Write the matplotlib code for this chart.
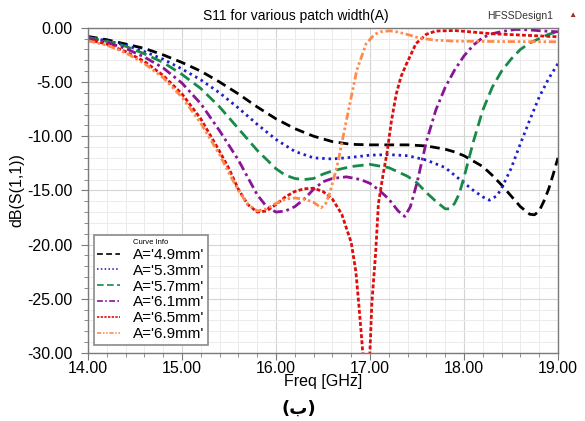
import numpy as np
import matplotlib
matplotlib.use("Agg")
import matplotlib.pyplot as plt
from matplotlib.ticker import MultipleLocator, FormatStrFormatter

plt.rcParams['font.family'] = ['Liberation Sans', 'DejaVu Sans']

# ---- data (freq in GHz, S11 in dB) ----
f_49 = [14.0, 14.2, 14.4, 14.6, 14.8, 15.0, 15.2, 15.4, 15.6, 15.8, 16.0, 16.2, 16.4, 16.6,
        16.8, 17.0, 17.2, 17.4, 17.6, 17.8, 17.9, 18.0, 18.1, 18.2, 18.3, 18.4, 18.5, 18.6,
        18.7, 18.75, 18.8, 18.85, 18.9, 18.95, 19.0]
s_49 = [-0.8, -1.1, -1.5, -1.9, -2.5, -3.2, -4.0, -5.0, -6.1, -7.3, -8.4, -9.3, -10.0, -10.5,
        -10.75, -10.8, -10.8, -10.8, -10.9, -11.2, -11.45, -11.8, -12.3, -12.8, -13.6, -14.5, -15.5, -16.5,
        -17.2, -17.25, -16.9, -16.0, -14.9, -13.5, -12.0]

f_53 = [14.0, 14.2, 14.4, 14.6, 14.8, 15.0, 15.2, 15.4, 15.6, 15.8, 16.0, 16.2, 16.4, 16.6,
        16.8, 17.0, 17.2, 17.4, 17.6, 17.8, 18.0, 18.1, 18.2, 18.27, 18.35, 18.4, 18.5, 18.6,
        18.7, 18.8, 18.9, 19.0]
s_53 = [-0.85, -1.2, -1.6, -2.2, -2.9, -3.8, -4.8, -6.0, -7.4, -8.9, -10.3, -11.4, -12.0, -12.1,
        -11.95, -11.75, -11.7, -11.8, -12.2, -12.9, -14.3, -15.0, -15.6, -15.9, -15.5, -14.8, -13.0, -10.7,
        -8.5, -6.4, -4.7, -3.3]

f_57 = [14.0, 14.2, 14.4, 14.6, 14.8, 15.0, 15.2, 15.4, 15.6, 15.8, 16.0, 16.1, 16.2, 16.3,
        16.4, 16.5, 16.6, 16.8, 17.0, 17.2, 17.4, 17.5, 17.6, 17.7, 17.8, 17.85, 17.9, 17.95,
        18.0, 18.1, 18.2, 18.3, 18.4, 18.5, 18.6, 18.7, 18.8, 18.9, 19.0]
s_57 = [-0.9, -1.25, -1.7, -2.4, -3.2, -4.3, -5.6, -7.3, -9.3, -11.3, -13.0, -13.6, -13.9, -14.0,
        -13.9, -13.5, -13.2, -12.8, -12.6, -12.9, -13.7, -14.3, -15.2, -16.0, -16.7, -16.7, -16.2, -15.3,
        -13.8, -10.5, -7.6, -5.5, -4.0, -2.9, -2.0, -1.4, -1.0, -0.6, -0.35]

f_61 = [14.0, 14.2, 14.4, 14.6, 14.8, 15.0, 15.2, 15.4, 15.6, 15.7, 15.8, 15.9, 16.0, 16.1,
        16.2, 16.3, 16.4, 16.5, 16.6, 16.75, 16.9, 17.0, 17.1, 17.2, 17.3, 17.37, 17.43, 17.5,
        17.6, 17.7, 17.8, 17.9, 18.0, 18.1, 18.2, 18.3, 18.4, 18.55, 18.7, 18.85, 19.0]
s_61 = [-1.0, -1.35, -1.9, -2.7, -3.7, -5.1, -7.0, -9.5, -12.2, -13.8, -15.4, -16.5, -17.0, -16.9,
        -16.5, -15.8, -14.9, -14.2, -13.9, -13.75, -14.0, -14.35, -15.0, -15.8, -16.9, -17.4, -16.5, -14.3,
        -10.5, -7.6, -5.5, -3.9, -2.6, -1.6, -0.9, -0.55, -0.35, -0.15, -0.2, -0.3, -0.37]

f_65 = [14.0, 14.2, 14.4, 14.6, 14.8, 15.0, 15.2, 15.4, 15.5, 15.6, 15.7, 15.8, 15.9, 16.0,
        16.1, 16.2, 16.3, 16.4, 16.5, 16.6, 16.7, 16.8, 16.85, 16.88, 16.91, 16.95, 16.97, 16.99,
        17.02, 17.06, 17.09, 17.14, 17.18, 17.23, 17.28, 17.33, 17.39, 17.49, 17.6, 17.7, 17.9,
        18.1, 18.3, 18.6, 19.0]
s_65 = [-1.1, -1.5, -2.2, -3.1, -4.4, -6.1, -8.4, -11.4, -13.0, -14.9, -16.3, -17.0, -16.9, -16.3,
        -15.6, -15.1, -14.85, -14.8, -15.1, -15.8, -17.2, -19.8, -22.5, -25.4, -28.5, -33.0, -36.0, -32.0,
        -25.4, -20.8, -16.2, -13.5, -11.6, -8.5, -6.1, -4.5, -3.3, -1.45, -0.6, -0.3, -0.25,
        -0.4, -0.55, -0.67, -0.83]

f_69 = [14.0, 14.2, 14.4, 14.6, 14.8, 15.0, 15.2, 15.4, 15.5, 15.6, 15.7, 15.8, 15.9, 16.0,
        16.1, 16.2, 16.3, 16.4, 16.48, 16.53, 16.57, 16.65, 16.75, 16.86, 16.96, 17.05, 17.11,
        17.21, 17.3, 17.39, 17.53, 17.7, 17.9, 18.4, 19.0]
s_69 = [-1.2, -1.6, -2.3, -3.3, -4.6, -6.4, -8.8, -11.7, -13.4, -15.0, -16.3, -16.9, -16.7, -16.2,
        -15.8, -15.7, -15.8, -16.1, -16.6, -16.2, -15.3, -12.8, -8.5, -3.9, -1.45, -0.6, -0.37,
        -0.28, -0.4, -0.6, -0.95, -1.15, -1.23, -1.27, -1.29]

labels = ["A='4.9mm'", "A='5.3mm'", "A='5.7mm'", "A='6.1mm'", "A='6.5mm'", "A='6.9mm'"]

fig = plt.figure(figsize=(5.85, 4.21), dpi=100)
ax = fig.add_axes([0.1504, 0.1615, 0.8034, 0.7725])

lw = 2.0
ax.plot(f_49, s_49, color='black', lw=lw, ls=(0, (3.5, 2)), label=labels[0])
ax.plot(f_53, s_53, color='#1f1fc8', lw=lw, ls=(0, (0.9, 1.4)), label=labels[1])
ax.plot(f_57, s_57, color='#178a4a', lw=lw, ls=(0, (4, 2)), label=labels[2])
ax.plot(f_61, s_61, color='#8a1496', lw=lw, ls=(0, (3.5, 1.4, 1, 1.4)), label=labels[3])
ax.plot(f_65, s_65, color='#e00c0c', lw=lw, ls=(0, (1.4, 0.8)), label=labels[4])
ax.plot(f_69, s_69, color='#ff8a4c', lw=lw, ls=(0, (2.6, 1, 0.9, 1, 0.9, 1)), label=labels[5])

ax.set_xlim(14, 19)
ax.set_ylim(-30, 0)
ax.xaxis.set_major_locator(MultipleLocator(1))
ax.xaxis.set_minor_locator(MultipleLocator(0.2))
ax.yaxis.set_major_locator(MultipleLocator(5))
ax.yaxis.set_minor_locator(MultipleLocator(1))
ax.xaxis.set_major_formatter(FormatStrFormatter('%.2f'))
ax.yaxis.set_major_formatter(FormatStrFormatter('%.2f'))
ax.grid(which='major', color='#d4d4d4', lw=0.8)
ax.grid(which='minor', color='#ebebeb', lw=0.7)
ax.set_axisbelow(True)

for sp in ax.spines.values():
    sp.set_color('#7a7a7a')
    sp.set_linewidth(1.0)
ax.tick_params(which='major', direction='out', length=5, color='#7a7a7a', labelsize=11.5)
ax.tick_params(which='minor', direction='out', length=3, color='#7a7a7a')
ax.tick_params(axis='x', pad=1)
ax.tick_params(axis='y', pad=6)

ax.set_xlabel('Freq [GHz]', fontsize=11.5, labelpad=-2)
ax.set_ylabel('dB(S(1,1))', fontsize=11.5, labelpad=2)

leg = ax.legend(loc='lower left', bbox_to_anchor=(0.012, 0.025), fontsize=11,
                title='Curve Info', title_fontsize=5.5, handlelength=1.5,
                handletextpad=0.8, labelspacing=0.12, borderpad=0.25,
                fancybox=False, framealpha=1, edgecolor='#8a8a8a', borderaxespad=0)
leg.get_frame().set_linewidth(1.2)
for h in leg.get_lines():
    h.set_linewidth(1.2)

fig.text(0.505, 0.963, 'S11 for various patch width(A)', ha='center', va='center', fontsize=10)
fig.text(0.945, 0.963, 'HFSSDesign1', ha='right', va='center', fontsize=7.5, color='#333333')
fig.text(0.978, 0.962, '\u25B2', ha='center', va='center', fontsize=6, color='#a0302a')
fig.text(0.51, 0.03, '(ب)', ha='center', va='center', fontsize=13, fontweight='bold',
         family='DejaVu Sans')

fig.savefig('out.png', dpi=100)
